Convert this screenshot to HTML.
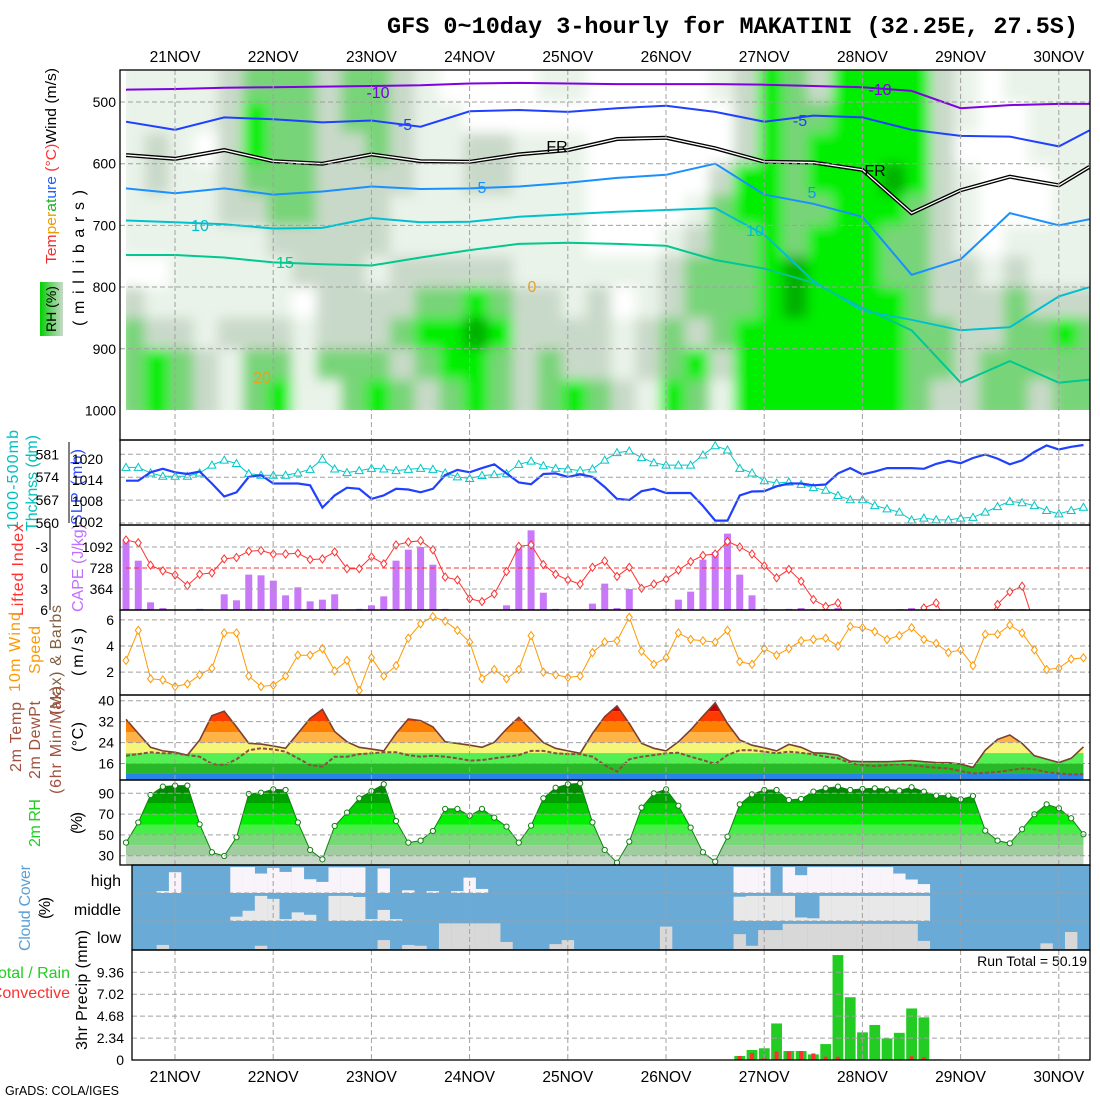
<!DOCTYPE html>
<html><head><meta charset="utf-8">
<style>
html,body{margin:0;padding:0;background:#fff;width:1100px;height:1100px;overflow:hidden}
svg{display:block;font-family:"Liberation Sans",sans-serif}
</style></head>
<body>
<svg id="chart" width="1100" height="1100" viewBox="0 0 1100 1100" xmlns="http://www.w3.org/2000/svg">
<defs>
<filter id="blur" x="-5%" y="-5%" width="110%" height="110%"><feGaussianBlur stdDeviation="6"/></filter>
<clipPath id="topclip"><rect x="126" y="70" width="964" height="340"/></clipPath>
<clipPath id="capeclip"><rect x="120" y="526" width="970" height="84"/></clipPath>
<clipPath id="windclip"><rect x="120" y="611" width="970" height="84"/></clipPath>
<linearGradient id="rhleg" x1="0" x2="1" y1="0" y2="0"><stop offset="0" stop-color="#00d000"/><stop offset="0.55" stop-color="#78d478"/><stop offset="1" stop-color="#c9d9c9"/></linearGradient>
</defs>
<text x="1078" y="33" text-anchor="end" font-family="'Liberation Mono',monospace" font-weight="bold" font-size="23.5">GFS 0~10day 3-hourly for MAKATINI (32.25E, 27.5S)</text>

<g font-size="15">
<text transform="translate(56,166) rotate(-90)" text-anchor="middle" textLength="196" lengthAdjust="spacingAndGlyphs"><tspan fill="#f03030">Tem</tspan><tspan fill="#e8a000">per</tspan><tspan fill="#20b020">at</tspan><tspan fill="#2060ff">ure</tspan><tspan fill="#ff3030"> (°C)</tspan><tspan fill="#000">Wind (m/s)</tspan></text>
<rect x="40" y="282" width="23" height="54" fill="url(#rhleg)"/>
<text transform="translate(56,309) rotate(-90)" text-anchor="middle" font-size="14">RH (%)</text>
<text transform="translate(84,258) rotate(-90)" text-anchor="middle" textLength="136" lengthAdjust="spacing" font-size="16">(millibars)</text>

<text transform="translate(18,480) rotate(-90)" text-anchor="middle" fill="#00c0c0" textLength="100" font-size="16">1000-500mb</text>
<text transform="translate(37,483) rotate(-90)" text-anchor="middle" fill="#00c0c0" textLength="96" font-size="16">Thcknss (dm)</text>
<text transform="translate(82,487) rotate(-90)" text-anchor="middle" fill="#3050ff" textLength="76" font-size="16">SLP (mb)</text>

<text transform="translate(23,570) rotate(-90)" text-anchor="middle" fill="#ff3030" textLength="92" font-size="16">Lifted Index</text>
<text transform="translate(83,568) rotate(-90)" text-anchor="middle" fill="#c070ff" textLength="88" font-size="16">CAPE (J/kg)</text>

<text transform="translate(20,652) rotate(-90)" text-anchor="middle" fill="#ff9900" textLength="80" font-size="16">10m Wind</text>
<text transform="translate(40,650) rotate(-90)" text-anchor="middle" fill="#ff9900" textLength="48" font-size="16">Speed</text>
<text transform="translate(61,660) rotate(-90)" text-anchor="middle" fill="#806040" textLength="110" font-size="16">(Max) &amp; Barbs</text>
<text transform="translate(83,652) rotate(-90)" text-anchor="middle" textLength="48" font-size="16">(m/s)</text>

<text transform="translate(21,737) rotate(-90)" text-anchor="middle" fill="#a0503c" textLength="70" font-size="16">2m Temp</text>
<text transform="translate(40,740) rotate(-90)" text-anchor="middle" fill="#a0503c" textLength="78" font-size="16">2m DewPt</text>
<text transform="translate(61,740) rotate(-90)" text-anchor="middle" fill="#a0503c" textLength="108" font-size="16">(6hr Min/Max)</text>
<text transform="translate(83,737) rotate(-90)" text-anchor="middle" textLength="30" font-size="16">(°C)</text>

<text transform="translate(40,823) rotate(-90)" text-anchor="middle" fill="#22cc22" textLength="48" font-size="16">2m RH</text>
<text transform="translate(82,823) rotate(-90)" text-anchor="middle" textLength="22" font-size="16">(%)</text>

<text transform="translate(30,908) rotate(-90)" text-anchor="middle" fill="#5aa0d8" textLength="86" font-size="16">Cloud Cover</text>
<text transform="translate(50,908) rotate(-90)" text-anchor="middle" textLength="22" font-size="16">(%)</text>
<text x="121" y="886" text-anchor="end" font-size="16">high</text>
<text x="121" y="915" text-anchor="end" font-size="16">middle</text>
<text x="121" y="943" text-anchor="end" font-size="16">low</text>

<text x="70" y="978" text-anchor="end" fill="#22cc22" font-size="16">Total / Rain</text>
<text x="70" y="998" text-anchor="end" fill="#ff3030" font-size="16">Convective</text>
<text transform="translate(87,990) rotate(-90)" text-anchor="middle" textLength="120" font-size="16">3hr Precip (mm)</text>
<text x="5" y="1095" font-size="12.5">GrADS: COLA/IGES</text>
<text x="1087" y="966" text-anchor="end" font-size="14">Run Total = 50.19</text>
</g>
<g id="layer"></g>
</svg>
<script>
const days=['21NOV','22NOV','23NOV','24NOV','25NOV','26NOV','27NOV','28NOV','29NOV','30NOV'];
const slp=[1013.8,1013.8,1016.2,1017.2,1016.2,1015.7,1016.4,1013.0,1009.3,1010.5,1014.9,1015.4,1013.0,1013.0,1013.0,1012.5,1006.1,1009.6,1011.8,1011.5,1008.6,1009.6,1011.5,1011.3,1010.5,1011.5,1015.4,1016.9,1016.2,1017.4,1018.5,1015.9,1013.3,1012.8,1015.7,1015.9,1014.9,1015.6,1014.9,1012.0,1008.6,1008.3,1010.8,1011.5,1010.3,1010.3,1010.3,1006.6,1002.4,1002.4,1009.6,1010.7,1010.8,1012.2,1013.0,1013.0,1012.5,1012.7,1015.9,1017.4,1015.6,1016.4,1017.4,1017.4,1017.4,1017.2,1018.6,1019.5,1018.8,1020.3,1021.3,1020.1,1018.5,1019.6,1022.0,1023.9,1022.7,1023.5,1024.0];
const thk=[577,577,575.3,574.3,574.3,574.3,575.3,577.7,579.2,578.2,575.1,574.6,574.6,574.6,575.3,576.4,579.5,576.5,575.4,576,576.7,576.5,576,576.4,576.7,576.4,575.3,574.1,573.6,574.5,574.8,575.1,577.9,578.9,577.5,576.7,576.5,576,576.5,579.2,581.5,582,580,578.4,577.7,577.7,577.7,580.8,583.6,582.3,576.7,575.3,572.9,572.2,572.5,571.8,570.8,570,568.4,567.1,567.1,565.3,564.3,563.3,560.9,561.5,561,560.9,561.5,561.7,563.3,565,566.6,566.2,565.3,563.8,562.8,563.8,564.8];
const cape=[1208,855,133,35,0,0,20,0,272,168,613,601,509,254,393,150,179,272,0,20,81,237,855,1046,1092,786,20,0,0,0,0,81,1104,1381,300,20,0,0,110,457,35,364,0,0,20,179,318,873,1006,1324,613,254,20,0,20,35,15,15,35,0,15,0,0,15,35,0,0,0,0,0,0,15,15,15,0,0,0,0,0];
const li=[-4.0,-3.6,-0.4,0.4,1.0,2.5,0.9,0.7,-1.3,-1.5,-2.4,-2.5,-2.0,-2.0,-2.1,-1.2,-1.3,-2.3,0.1,0.1,-1.6,-0.6,-3.3,-3.7,-3.9,-2.6,1.3,1.7,4.4,4.8,3.7,0.5,-3.1,-3.3,-0.5,0.9,1.7,2.3,-0.1,-1.0,1.2,-0.1,2.9,2.3,1.6,0.3,-0.9,-1.8,-2.0,-3.8,-3.0,-2.0,-0.3,1.4,0.2,1.9,4.5,5.5,5.0,8,8,8,8,8,8,5.7,5.0,8,8,8,8,5.2,3.4,2.6,8,8,8,8,8];
const wspd=[2.9,5.2,1.5,1.4,0.9,1.1,1.8,2.3,5.0,5.0,1.7,0.9,1.0,1.7,3.3,3.3,3.8,2.1,2.9,0.6,3.1,1.7,2.5,4.6,5.7,6.25,5.9,5.2,4.3,1.5,2.2,1.5,2.2,4.8,2.0,1.8,1.6,1.7,3.5,4.3,4.4,6.2,3.6,2.6,3.1,5.0,4.5,4.4,4.3,5.2,2.8,2.6,3.8,3.3,3.8,4.4,4.5,4.6,4.0,5.5,5.4,5.1,4.5,4.8,5.4,4.5,4.2,3.5,3.7,2.5,4.9,4.9,5.6,5.0,3.7,2.2,2.3,3.0,3.1];
const t2m=[32.9,27.5,22.2,20.8,20.3,19.2,25,34.3,36,30,23.7,23.4,22.7,21.8,27.5,33.2,36.7,28.2,24.3,22.2,21.5,20.8,27.5,33,32.4,30,24.3,23.7,23,22.2,24.1,29.2,33.6,28.8,24,21.8,20.8,19.9,27.5,33.9,38,31.3,23.7,21.8,20.8,24.3,28.8,34.1,39.2,31.3,25,23,22,20.8,23.3,22.2,20.1,19.9,19.2,16.9,16.7,16.7,16.7,16.9,17.1,16.7,16.4,16.3,15.8,14.5,21.1,25.2,26.9,23.7,19,17.7,16.4,18,22.4];
const td2m=[19,19.6,20.3,19.9,19.9,19.2,18.6,15.8,15.4,17.6,21.1,21.8,21.4,20.5,18,15.4,14.8,18.6,18.6,19.6,19.9,20.3,20.3,19.2,18.6,19,18.6,18,17.1,17.3,18,18.6,19.2,20.8,20.8,19.9,19.6,19.6,18.6,15.4,12.9,17.6,18.6,19.2,19.9,20.1,18.6,17.3,15.8,19.2,21.1,21.1,20.5,19.9,20.5,20.1,19.5,18.6,18,16.1,15.4,15,15.4,15.8,15.4,14.8,14.4,14.1,13.1,12.2,12.4,12.7,13.5,14.1,13.8,12.7,12.2,11.8,11.9];
const rh2m=[42.6,62,88.4,96.4,97.4,97.4,60.2,33.3,29.7,47.7,89.4,90.6,93.8,93.2,62,35.5,26.5,58.6,71.4,85.2,92.2,98.7,63.4,42.6,44.5,53.8,75,75,68.5,75,66.6,58,42.6,58.9,85.2,95.4,98.7,99.6,62,35.5,23.3,43.5,76.2,90,93.8,78.1,57,33.3,24.3,48.3,79.4,89,93.2,93.2,83.6,84.6,91.6,94.8,96.4,93.2,94.2,94.8,93.8,92.6,95.8,91.6,87.8,87.8,84.2,87.4,54.1,44.5,41.9,55.4,69.8,79.4,75.6,66,50.6];
const cloudHigh=[0,0,0,0.07,0.77,0,0,0,0,0.96,0.96,0.72,0.93,0.78,0.95,0.51,0.41,0.95,0.95,0.95,0,0.91,0,0.1,0,0.07,0,0.07,0.57,0.15,0,0,0,0,0,0,0,0,0,0,0,0,0,0,0,0,0,0,0,0,0.96,0.96,0.96,0,0.96,0.66,0.96,0.96,0.96,0.96,0.96,0.96,0.96,0.72,0.5,0.33,0,0,0,0,0,0,0,0,0,0,0,0,0];
const cloudMid=[0,0,0,0,0,0,0,0,0,0.16,0.38,0.93,0.82,0.07,0.32,0.23,0,0.93,0.93,0.89,0.07,0.41,0.07,0,0,0,0,0,0,0,0,0,0,0,0,0,0,0,0,0,0,0,0,0,0,0,0,0,0,0,0.9,0.93,0.93,0.93,0.93,0.13,0.1,0.93,0.93,0.93,0.93,0.93,0.93,0.93,0.93,0.93,0,0,0,0,0,0,0,0,0,0,0,0,0];
const cloudLow=[0,0,0,0.15,0,0,0,0,0,0,0,0.12,0,0,0,0,0,0,0,0,0,0.33,0,0.15,0.12,0,0.95,0.95,0.95,0.95,0.95,0.26,0,0,0,0.18,0.33,0,0,0,0,0,0,0,0.83,0,0,0,0,0,0.55,0.12,0.7,0.7,0.93,0.93,0.93,0.93,0.93,0.93,0.93,0.93,0.93,0.93,0.93,0.3,0,0,0,0,0,0,0,0,0,0.21,0,0.63,0];
const precipTot=[0,0,0,0,0,0,0,0,0,0,0,0,0,0,0,0,0,0,0,0.05,0,0,0,0,0,0,0,0,0.05,0.05,0,0,0,0,0,0,0,0,0,0,0,0,0,0,0,0,0,0,0,0,0.43,1.07,1.25,3.9,0.96,0.96,0.6,1.7,11.2,6.7,2.95,3.74,2.3,2.9,5.5,4.55,0.07,0,0,0,0,0,0,0,0,0,0,0,0];
const precipConv=[0,0,0,0,0,0,0,0,0,0,0,0,0,0,0,0,0,0,0,0,0,0,0,0,0,0,0,0,0,0,0,0,0,0,0,0,0,0,0,0,0,0,0,0,0,0,0,0,0,0,0.43,0.75,0.25,0.9,0.9,0.95,0.7,0.35,0.35,0.1,0,0,0,0.1,0.4,0.3,0,0,0,0,0,0,0,0,0,0,0,0,0];
// RH cross-section classes (rows 450-500mb ... 950-1000mb, 40 six-hour columns)
const rhRows=[
"1111233323321000011000001243244442101111",
"1111243323321100000000000243344442100111",
"1210243322321122111000000243444442000111",
"1211233322221122111000002443444542100011",
"1111223322211111111000013443344432100011",
"1111112222211111111000123343444332101111",
"0011111222122222111111233345444332212111",
"2111111022223343221201233345444432223222",
"3221222122234454222212323444444433223343",
"3432133133323443232212342444444433233333",
"3432134113432343234321431444444432233233"];
// temperature contours (pressure mb) sampled every 4 steps
const ctrStep=4;
const ctrM10=[480,479,477,476,475,474,473,470,469,470,471,471,471,472,474,476,482,510,505,503,503];
const ctrM5=[532,545,525,528,533,530,540,515,513,516,510,506,516,532,522,525,545,555,556,572,546];
const ctrFR=[586,592,578,596,600,585,596,597,585,578,560,558,575,597,598,610,680,643,621,635,605];
const ctrP5=[640,648,640,650,645,637,641,640,637,631,623,618,600,650,665,686,780,755,680,700,690];
const ctrP10=[692,695,698,705,704,688,695,694,686,682,678,675,672,715,790,838,853,870,865,815,800];
const ctrP15=[748,748,752,760,763,765,752,740,730,728,730,733,756,770,793,833,870,955,920,955,950];

const NS='http://www.w3.org/2000/svg';
const L=document.getElementById('layer');
function mk(tag,attrs,parent){const e=document.createElementNS(NS,tag);for(const k in attrs)e.setAttribute(k,attrs[k]);(parent||L).appendChild(e);return e;}
const X=i=>126+i*12.275;
const DX=d=>175+d*98.2;
const yP=p=>102+(p-500)*0.617;
const ySLP=v=>459+(1020-v)*3.5;
const yTHK=v=>454.3+(581-v)*3.27;
const yCAPE=v=>610-v/364*21;
const yLI=v=>568+v*7;
const yW=v=>698.3-v*13.07;
const yT=v=>700.7+(40-v)*2.617;
const yRH=v=>793.3+(90-v)*1.04;
const yPR=v=>1060-v*9.37;
const pts=(arr,f)=>arr.map((v,i)=>X(i).toFixed(1)+','+f(v).toFixed(1)).join(' ');
const GRID='#a0a0a0';

// ---- top panel RH shading
const rhCols=['#ffffff','#e9f3e9','#c9d9c9','#78d478','#00ee00','#00b000'];
const gTop=mk('g',{'clip-path':'url(#topclip)'});


const gBl=mk('g',{filter:'url(#blur)'},gTop);
rhRows.forEach((row,r)=>{
  const p0=450+50*r,p1=p0+50;
  for(let c=0;c<row.length;c++){
    const k=+row[c];
    const y0=r===0?60:yP(p0);
    const y1=r===rhRows.length-1?420:yP(p1)+1;
    const cell=mk('rect',{x:120+c*24.55,y:y0,width:25.5,height:y1-y0,fill:rhCols[k]},gBl);
    
    
  }
});
// contours
function ctr(arr,color,w,name){
  const s=arr.map((p,j)=>Math.min(X(j*ctrStep),X(78)+6).toFixed(1)+','+yP(p).toFixed(1)).join(' ');
  const ln=mk('polyline',{points:s,fill:'none',stroke:color,'stroke-width':w},gTop);
  
  
  return s;
}
ctr(ctrM10,'#8000e0',2,'contour-minus10');
ctr(ctrM5,'#2040ff',2,'contour-minus5');
const frs=ctr(ctrFR,'#000',4,'contour-freezing');
const frw=mk('polyline',{points:frs,fill:'none',stroke:'#fff','stroke-width':1.3},gTop);


ctr(ctrP5,'#1a90ff',2,'contour-plus5');
ctr(ctrP10,'#00c0d0',2,'contour-plus10');
ctr(ctrP15,'#00c890',2,'contour-plus15');
const clabels=[['-10',378,98,'#8000e0'],['-5',405,130,'#2040ff'],['FR',557,152,'#000'],['FR',875,176,'#000'],['5',482,193,'#1a90ff'],['5',812,198,'#1a90ff'],['10',200,231,'#00c0d0'],['10',755,236,'#00c0d0'],['15',285,268,'#00c890'],['0',532,292,'#e8a020'],['20',262,383,'#e8a020'],['-10',880,95,'#8000e0'],['-5',800,126,'#2040ff']];
clabels.forEach(c=>{const t=mk('text',{x:c[1],y:c[2],fill:c[3],'font-size':16,'text-anchor':'middle'},gTop);t.textContent=c[0];

});

// ---- panel frames and gridlines
const panels=[[120,70,1090,440],[120,440,1090,525],[120,525,1090,610],[120,610,1090,695],[120,695,1090,780],[120,780,1090,865],[132,865,1090,950],[132,950,1090,1060]];
const hgrid=[[102,163.7,225.4,287,348.8],[yTHK(581),yTHK(574),yTHK(567),yTHK(560)],[yLI(-3),yLI(3)],[yW(6),yW(4),yW(2)],[yT(40),yT(32),yT(24),yT(16)],[yRH(90),yRH(70),yRH(50),yRH(30)],[893,921],[yPR(9.36),yPR(7.02),yPR(4.68),yPR(2.34)]];

// ---- panel 2: thickness & SLP
const thkLine=mk('polyline',{points:pts(thk,yTHK),fill:'none',stroke:'#00c8c8','stroke-width':1});


thk.forEach((v,i)=>{const x=X(i),y=yTHK(v);const m=mk('polygon',{points:`${x},${y-4} ${x-4},${y+3} ${x+4},${y+3}`,fill:'#fff',stroke:'#00c8c8','stroke-width':1});

});
const slpLine=mk('polyline',{points:pts(slp,ySLP),fill:'none',stroke:'#2040ff','stroke-width':2.2});



// ---- panel 3: CAPE & LI
cape.forEach((v,i)=>{if(v<=0)return;const b=mk('rect',{x:X(i)-3.5,y:yCAPE(v),width:7,height:610-yCAPE(v),fill:'#c878f8'});

});
const liZero=mk('line',{x1:126,x2:1090,y1:yLI(0),y2:yLI(0),stroke:'#ff3030','stroke-dasharray':'5,3'});


const gLI=mk('g',{'clip-path':'url(#capeclip)'});


const liLine=mk('polyline',{points:pts(li,yLI),fill:'none',stroke:'#ff3030','stroke-width':1},gLI);


li.forEach((v,i)=>{const x=X(i),y=yLI(v);const m=mk('polygon',{points:`${x},${y-4} ${x+3},${y} ${x},${y+4} ${x-3},${y}`,fill:'#fff',stroke:'#ff3030'},gLI);

});

// ---- panel 4: wind speed
const gW=mk('g',{'clip-path':'url(#windclip)'});


const wLine=mk('polyline',{points:pts(wspd,yW),fill:'none',stroke:'#ff9900','stroke-width':1},gW);


wspd.forEach((v,i)=>{const x=X(i),y=yW(v);const m=mk('polygon',{points:`${x},${y-4} ${x+3},${y} ${x},${y+4} ${x-3},${y}`,fill:'#fff',stroke:'#ff9900'},gW);

});

// ---- panel 5: temperature bands
const tPoly=pts(t2m,yT)+` ${X(78)},780 ${X(0)},780`;
const cpT=mk('clipPath',{id:'tclip'},document.querySelector('defs'));
mk('polygon',{points:tPoly},cpT);
const gT=mk('g',{'clip-path':'url(#tclip)'});


const tBands=[[0,12,'#2a84e8'],[12,16,'#28b828'],[16,20,'#55ee55'],[20,24,'#f5f57a'],[24,28,'#ffb347'],[28,32,'#ff7f00'],[32,36,'#ff3a00'],[36,50,'#c80000']];
tBands.forEach(b=>{const r=mk('rect',{x:120,y:yT(b[1]),width:970,height:yT(b[0])-yT(b[1]),fill:b[2]},gT);

});
const tLine=mk('polyline',{points:pts(t2m,yT),fill:'none',stroke:'#7a4030','stroke-width':1.6});


const tdLine=mk('polyline',{points:pts(td2m,yT),fill:'none',stroke:'#8a5040','stroke-width':2,'stroke-dasharray':'4,2'});



// ---- panel 6: RH bands
const rPoly=pts(rh2m,yRH)+` ${X(78)},865 ${X(0)},865`;
const cpR=mk('clipPath',{id:'rclip'},document.querySelector('defs'));
mk('polygon',{points:rPoly},cpR);
const gR=mk('g',{'clip-path':'url(#rclip)'});


const rBands=[[0,30,'#c8d8c8'],[30,40,'#a0cca0'],[40,50,'#78d878'],[50,60,'#48ee48'],[60,70,'#00f000'],[70,80,'#00cc00'],[80,90,'#00a000'],[90,101,'#008800']];
rBands.forEach(b=>{const r=mk('rect',{x:120,y:yRH(b[1]),width:970,height:yRH(b[0])-yRH(b[1]),fill:b[2]},gR);

});
const rLine=mk('polyline',{points:pts(rh2m,yRH),fill:'none',stroke:'#108010','stroke-width':1});


rh2m.forEach((v,i)=>{const m=mk('circle',{cx:X(i),cy:yRH(v),r:2.6,fill:'#fff',stroke:'#108010'});

});

// ---- panel 7: cloud cover
const cb=mk('rect',{x:132,y:865,width:958,height:85,fill:'#6aaad6'});


[[cloudHigh,893,'#f8f4fa','cloud-high-bar'],[cloudMid,921,'#e8e8e8','cloud-middle-bar'],[cloudLow,949,'#d8d8d8','cloud-low-bar']].forEach(s=>{
  s[0].forEach((v,i)=>{if(v<=0)return;const x0=Math.max(132,X(i)-6.2);const h=v*27;
    const r=mk('rect',{x:x0,y:s[1]-h,width:X(i)+6.2-x0,height:h,fill:s[2]});
    
    });
});

// ---- panel 8: precip
precipTot.forEach((v,i)=>{if(v<=0)return;const b=mk('rect',{x:X(i)-5.4,y:yPR(v),width:10.8,height:1060-yPR(v),fill:'#22cc22'});

});
precipConv.forEach((v,i)=>{if(v<=0)return;const b=mk('rect',{x:X(i)-2,y:yPR(v),width:4,height:1060-yPR(v),fill:'#ff3030'});

});

// ---- grid lines
panels.forEach((p,k)=>{
  hgrid[k].forEach(y=>{const g=mk('line',{x1:p[0],x2:p[2],y1:y,y2:y,stroke:GRID,'stroke-dasharray':'5,3'});
  
  });
  days.forEach((d,j)=>{const g=mk('line',{x1:DX(j),x2:DX(j),y1:p[1],y2:p[3],stroke:GRID,'stroke-dasharray':'5,3'});
  
  });
});
panels.forEach(p=>{const f=mk('rect',{x:p[0],y:p[1],width:p[2]-p[0],height:p[3]-p[1],fill:'none',stroke:'#000','stroke-width':1.3});

});

// ---- axis tick labels
function lab(x,y,s,anchor,name,size){const t=mk('text',{x:x,y:y,'text-anchor':anchor||'end','font-size':size||14});t.textContent=s;

}
const pTicks=['500','600','700','800','900','1000'];
pTicks.forEach(s=>lab(116,yP(+s)+5,s,'end','pressure-tick'));
const thkTicks=['581','574','567','560'];
thkTicks.forEach(s=>lab(59,yTHK(+s)+5,s,'end','thickness-tick'));
const slpTicks=['1020','1014','1008','1002'];
slpTicks.forEach(s=>lab(103,ySLP(+s)+5,s,'end','slp-tick'));
const liTicks=['-3','0','3','6'];
liTicks.forEach(s=>lab(48,yLI(+s)+5,s,'end','li-tick'));
const capeTicks=['1092','728','364'];
capeTicks.forEach(s=>lab(113,yCAPE(+s)+5,s,'end','cape-tick'));
const wTicks=['6','4','2'];
wTicks.forEach(s=>lab(114,yW(+s)+5,s,'end','wind-tick'));
const tTicks=['40','32','24','16'];
tTicks.forEach(s=>lab(114,yT(+s)+5,s,'end','temp-tick'));
const rhTicks=['90','70','50','30'];
rhTicks.forEach(s=>lab(114,yRH(+s)+5,s,'end','rh-tick'));
const prTicks=['9.36','7.02','4.68','2.34','0'];
prTicks.forEach(s=>lab(124,yPR(+s)+5,s,'end','precip-tick'));
[[69,442,523],[50,526,610]].forEach(a=>{const l=mk('line',{x1:a[0],x2:a[0],y1:a[1],y2:a[2],stroke:'#000'});

});
days.forEach((d,j)=>{lab(DX(j),62,d,'middle','date-label-top',15.5);lab(DX(j),1082,d,'middle','date-label-bottom',15.5);});
</script>
</body></html>
